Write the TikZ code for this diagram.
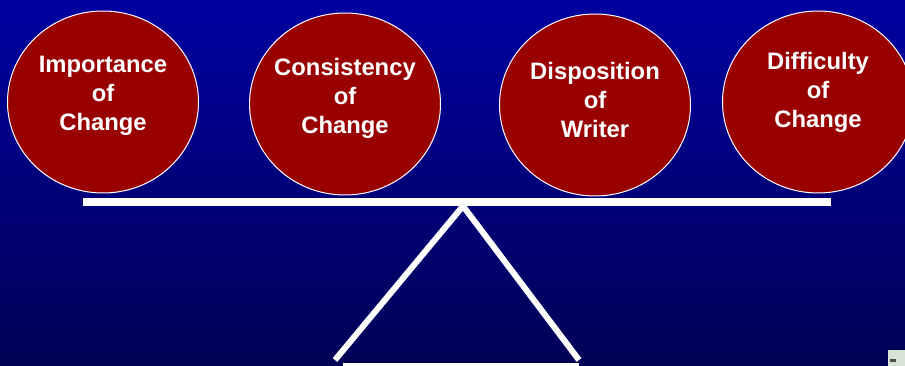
\documentclass[tikz,border=0pt]{standalone}
\usepackage{fontspec}
\setmainfont{Liberation Sans}
\usetikzlibrary{shapes.geometric}
\definecolor{topblue}{RGB}{0,0,160}
\definecolor{botblue}{RGB}{0,0,85}
\definecolor{ballred}{RGB}{153,0,0}
\definecolor{iconbg}{RGB}{214,228,214}
\begin{document}
\begin{tikzpicture}[x=1pt,y=-1pt,
  ball/.style={ellipse, draw=white, line width=1, fill=ballred,
    minimum width=191, minimum height=182, inner sep=0},
  balltext/.style={text=white, align=center,
    font=\fontsize{23.8}{29}\selectfont\bfseries},
  leg/.style={white, line width=6}]
\useasboundingbox (0,0) rectangle (905,366);
\shade[top color=topblue, bottom color=botblue] (0,0) rectangle (905,366);
\clip (0,0) rectangle (905,366);
% balls
\node[ball] (b1) at (103,102) {};
\node[ball] (b2) at (345,104) {};
\node[ball] (b3) at (595,105) {};
\node[ball] (b4) at (818,102) {};
\node[balltext] (t1) at (103,96) {Importance\\of\\Change};
\node[balltext] (t2) at (345,98) {Consistency\\of\\Change};
\node[balltext] (t3) at (595,100) {Disposition\\of\\Writer};
\node[balltext] (t4) at (818,92) {Difficulty\\of\\Change};
% beam
\fill[white] (83,198) rectangle (831,206);
% legs
\coordinate (apex) at (463,206);
\coordinate (lf) at (335,360);
\coordinate (rf) at (579,360);
\draw[leg] (lf) -- (apex) -- (rf);
% base
\fill[white] (343,363) rectangle (579,367);
% corner icon
\fill[iconbg] (888,350) rectangle (906,367);
\fill[black!70] (890,359) rectangle (896,362);
\end{tikzpicture}
\end{document}
